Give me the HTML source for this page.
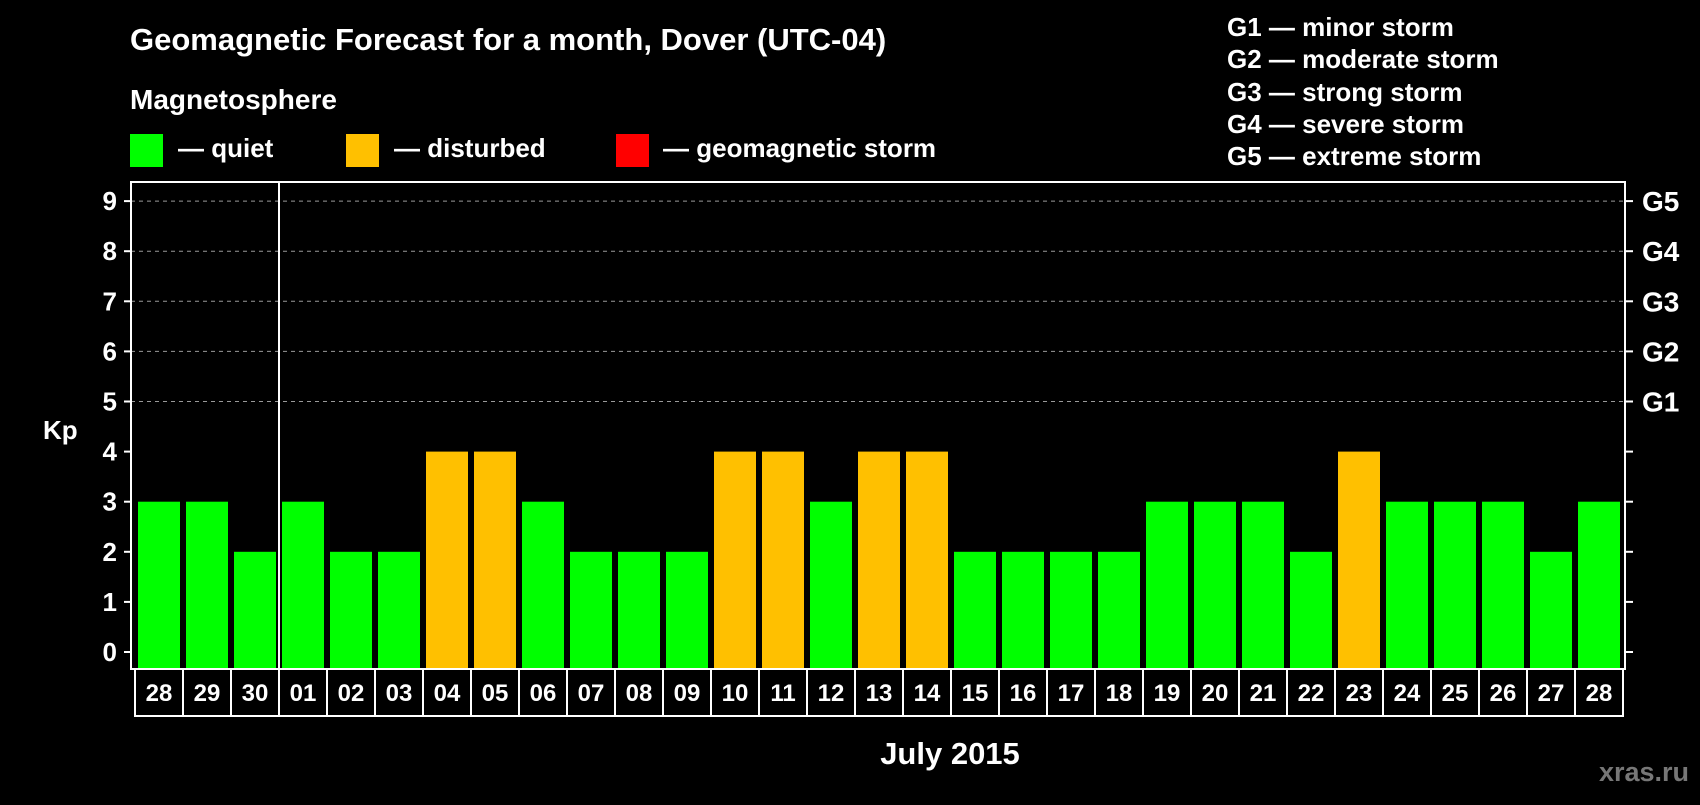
<!DOCTYPE html>
<html><head><meta charset="utf-8"><style>
body{margin:0;background:#000;width:1700px;height:800px;overflow:hidden;font-family:"Liberation Sans",sans-serif;font-weight:bold;color:#fff}
svg text{font-family:"Liberation Sans",sans-serif;font-weight:bold;fill:#fff}
</style></head><body>
<svg id="c" width="1700" height="800">
<text x="130" y="50" font-size="31">Geomagnetic Forecast for a month, Dover (UTC-04)</text>
<text x="130" y="109" font-size="28">Magnetosphere</text>
<rect x="130" y="134" width="33" height="33" fill="#00ff00"/>
<text x="178" y="157" font-size="26">— quiet</text>
<rect x="346" y="134" width="33" height="33" fill="#ffc000"/>
<text x="394" y="157" font-size="26">— disturbed</text>
<rect x="616" y="134" width="33" height="33" fill="#ff0000"/>
<text x="663" y="157" font-size="26">— geomagnetic storm</text>
<g font-size="26">
<text x="1227" y="36">G1 — minor storm</text>
<text x="1227" y="68">G2 — moderate storm</text>
<text x="1227" y="101">G3 — strong storm</text>
<text x="1227" y="133">G4 — severe storm</text>
<text x="1227" y="165">G5 — extreme storm</text>
</g>
<text x="43" y="439" font-size="26">Kp</text>
<text x="950" y="764" font-size="31" text-anchor="middle">July 2015</text>
<text x="1689" y="781" font-size="27" text-anchor="end" style="fill:#777">xras.ru</text>
<g id="grid"></g><g id="bars"></g><g id="xl"></g>
<rect x="131" y="182" width="1494" height="487" fill="none" stroke="#fff" stroke-width="2"/>
<line x1="279" y1="182" x2="279" y2="716" stroke="#fff" stroke-width="2"/>
</svg>
<script>
const days=["28","29","30","01","02","03","04","05","06","07","08","09","10","11","12","13","14","15","16","17","18","19","20","21","22","23","24","25","26","27","28"];
const kp=[3,3,2,3,2,2,4,4,3,2,2,2,4,4,3,4,4,2,2,2,2,3,3,3,2,4,3,3,3,2,3];
const yTicks=[0,1,2,3,4,5,6,7,8,9];
const gLabels=["G1","G2","G3","G4","G5"];
const NS="http://www.w3.org/2000/svg";
const y=v=>652-v*50.1, x=i=>138+i*48;
function mk(t,a,p){const e=document.createElementNS(NS,t);for(const k in a)e.setAttribute(k,a[k]);p.appendChild(e);return e;}
const grid=document.getElementById('grid'),bars=document.getElementById('bars'),xl=document.getElementById('xl');
yTicks.forEach(v=>{
 const yy=y(v);
 if(v>=5){const g=mk('line',{x1:131,x2:1625,y1:yy,y2:yy,stroke:'#999','stroke-dasharray':'4,4','stroke-width':1},grid);
 
 }
 mk('line',{x1:124,x2:131,y1:yy,y2:yy,stroke:'#fff','stroke-width':2},grid);
 mk('line',{x1:1625,x2:1633,y1:yy,y2:yy,stroke:'#fff','stroke-width':2},grid);
 const t=mk('text',{x:117,y:yy+9,'font-size':26,'text-anchor':'end'},grid);t.textContent=v;
 
 
 if(v>=5){const g=mk('text',{x:1642,y:yy+10,'font-size':28},grid);g.textContent=gLabels[v-5];
 
 }
});
kp.forEach((v,i)=>{
 const r=mk('rect',{x:x(i),y:y(v),width:42,height:669-y(v),fill:v>=5?'#ff0000':v>=4?'#ffc000':'#00ff00'},bars);
 
 
 const b=mk('rect',{x:x(i)-3,y:669,width:48,height:47,fill:'none',stroke:'#fff','stroke-width':2},xl);
 
 
 const t=mk('text',{x:x(i)+21,y:701,'font-size':24,'text-anchor':'middle'},xl);t.textContent=days[i];
 
 
});
</script>
</body></html>
